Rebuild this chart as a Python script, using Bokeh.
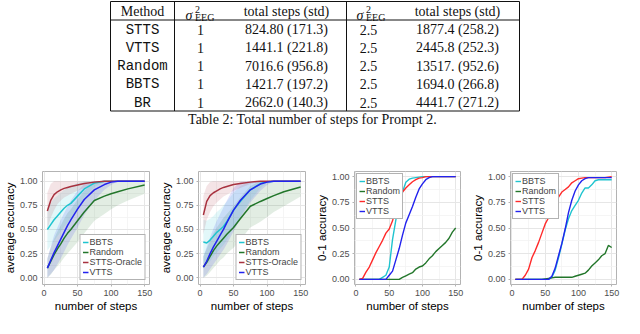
from bokeh.plotting import figure
from bokeh.layouts import column, row
from bokeh.models import Range1d, FixedTicker, Label, Legend, LegendItem, PrintfTickFormatter
from bokeh.core.properties import value
from bokeh.embed import file_html
from bokeh.resources import INLINE

# ---------------- Table 2 data ----------------
METHODS = ["STTS", "VTTS", "Random", "BBTS", "BR"]
SIGMA_LOW = "1"
SIGMA_HIGH = "2.5"
TOTAL_LOW = ["824.80", "1441.1", "7016.6", "1421.7", "2662.0"]
STD_LOW = ["171.3", "221.8", "956.8", "197.2", "140.3"]
TOTAL_HIGH = ["1877.4", "2445.8", "13517.", "1694.0", "4441.7"]
STD_HIGH = ["258.2", "252.3", "952.6", "266.8", "271.2"]
HEAD_METHOD = "Method"
HEAD_TOTAL = "total steps (std)"
CAPTION = "Table 2: Total number of steps for Prompt 2."

# ---------------- average accuracy panels ----------------
AVG_STEPS = [5, 10, 15, 20, 25, 30, 35, 40, 50, 60, 75, 90, 100, 110, 125, 150]

ORACLE_1 = [0.69, 0.80, 0.86, 0.89, 0.91, 0.925, 0.935, 0.945, 0.96, 0.975, 0.99, 0.998, 1.0, 1.0, 1.0, 1.0]
ORACLE_1_LO = [0.50, 0.62, 0.70, 0.76, 0.80, 0.83, 0.85, 0.87, 0.90, 0.93, 0.97, 0.99, 1.0, 1.0, 1.0, 1.0]
ORACLE_1_HI = [0.88, 0.97, 1.0, 1.0, 1.0, 1.0, 1.0, 1.0, 1.0, 1.0, 1.0, 1.0, 1.0, 1.0, 1.0, 1.0]
BBTS_1 = [0.50, 0.55, 0.60, 0.64, 0.68, 0.72, 0.75, 0.77, 0.845, 0.92, 0.98, 0.998, 1.0, 1.0, 1.0, 1.0]
BBTS_1_LO = [0.28, 0.33, 0.38, 0.43, 0.48, 0.53, 0.57, 0.61, 0.71, 0.82, 0.94, 0.99, 1.0, 1.0, 1.0, 1.0]
BBTS_1_HI = [0.72, 0.77, 0.82, 0.85, 0.88, 0.91, 0.93, 0.95, 0.98, 1.0, 1.0, 1.0, 1.0, 1.0, 1.0, 1.0]
VTTS_1 = [0.10, 0.18, 0.26, 0.33, 0.40, 0.47, 0.54, 0.60, 0.71, 0.81, 0.91, 0.965, 0.99, 1.0, 1.0, 1.0]
VTTS_1_LO = [0.0, 0.04, 0.08, 0.14, 0.20, 0.27, 0.34, 0.40, 0.52, 0.65, 0.80, 0.91, 0.96, 1.0, 1.0, 1.0]
VTTS_1_HI = [0.20, 0.32, 0.44, 0.52, 0.60, 0.67, 0.74, 0.80, 0.90, 0.97, 1.0, 1.0, 1.0, 1.0, 1.0, 1.0]
RANDOM_1 = [0.10, 0.17, 0.24, 0.30, 0.35, 0.41, 0.46, 0.50, 0.59, 0.68, 0.80, 0.845, 0.87, 0.89, 0.92, 0.96]
RANDOM_1_LO = [0.0, 0.03, 0.08, 0.12, 0.16, 0.21, 0.25, 0.29, 0.37, 0.46, 0.59, 0.66, 0.71, 0.75, 0.80, 0.87]
RANDOM_1_HI = [0.20, 0.31, 0.40, 0.48, 0.54, 0.61, 0.67, 0.71, 0.81, 0.90, 1.0, 1.0, 1.0, 1.0, 1.0, 1.0]

ORACLE_2 = [0.65, 0.79, 0.85, 0.88, 0.90, 0.92, 0.935, 0.945, 0.965, 0.975, 0.99, 1.0, 1.0, 1.0, 1.0, 1.0]
ORACLE_2_LO = [0.45, 0.60, 0.68, 0.74, 0.78, 0.81, 0.84, 0.86, 0.90, 0.93, 0.97, 1.0, 1.0, 1.0, 1.0, 1.0]
ORACLE_2_HI = [0.85, 0.95, 0.99, 1.0, 1.0, 1.0, 1.0, 1.0, 1.0, 1.0, 1.0, 1.0, 1.0, 1.0, 1.0, 1.0]
BBTS_2 = [0.37, 0.36, 0.39, 0.43, 0.47, 0.50, 0.53, 0.58, 0.70, 0.79, 0.91, 0.975, 0.995, 1.0, 1.0, 1.0]
BBTS_2_LO = [0.15, 0.14, 0.17, 0.22, 0.26, 0.30, 0.34, 0.39, 0.52, 0.63, 0.80, 0.93, 0.98, 1.0, 1.0, 1.0]
BBTS_2_HI = [0.60, 0.59, 0.61, 0.64, 0.68, 0.71, 0.75, 0.79, 0.88, 0.95, 1.0, 1.0, 1.0, 1.0, 1.0, 1.0]
VTTS_2 = [0.11, 0.17, 0.25, 0.32, 0.38, 0.44, 0.50, 0.57, 0.70, 0.80, 0.91, 0.97, 0.99, 1.0, 1.0, 1.0]
VTTS_2_LO = [0.0, 0.04, 0.09, 0.14, 0.19, 0.24, 0.29, 0.35, 0.48, 0.61, 0.78, 0.90, 0.96, 1.0, 1.0, 1.0]
VTTS_2_HI = [0.22, 0.32, 0.42, 0.51, 0.59, 0.66, 0.73, 0.80, 0.93, 0.99, 1.0, 1.0, 1.0, 1.0, 1.0, 1.0]
RANDOM_2 = [0.11, 0.16, 0.22, 0.28, 0.33, 0.37, 0.41, 0.45, 0.52, 0.61, 0.74, 0.79, 0.82, 0.85, 0.89, 0.94]
RANDOM_2_LO = [0.0, 0.02, 0.06, 0.10, 0.14, 0.18, 0.21, 0.25, 0.31, 0.39, 0.52, 0.58, 0.63, 0.68, 0.74, 0.84]
RANDOM_2_HI = [0.22, 0.30, 0.38, 0.46, 0.52, 0.57, 0.62, 0.66, 0.74, 0.83, 0.95, 1.0, 1.0, 1.0, 1.0, 1.0]

# ---------------- 0-1 accuracy panels ----------------
STEPS01 = [5, 10, 15, 20, 25, 30, 35, 40, 45, 50, 55, 60, 65, 70, 75,
           80, 85, 90, 95, 100, 105, 110, 115, 120, 125, 130, 135, 140, 145, 150]

BBTS_3 = [0, 0, 0, 0, 0, 0, 0, 0.02, 0.04, 0.12, 0.39, 0.58, 0.73, 0.85, 0.945,
          0.975, 0.985, 0.99, 0.995, 1, 1, 1, 1, 1, 1, 1, 1, 1, 1, 1]
RANDOM_3 = [0, 0, 0, 0, 0, 0, 0, 0, 0, 0, 0, 0, 0, 0.02, 0.035,
            0.05, 0.065, 0.10, 0.12, 0.13, 0.16, 0.20, 0.23, 0.27, 0.30, 0.33, 0.36, 0.40, 0.46, 0.50]
STTS_3 = [0, 0.01, 0.07, 0.12, 0.19, 0.26, 0.32, 0.38, 0.45, 0.49, 0.57, 0.70, 0.79, 0.85, 0.89,
          0.92, 0.95, 0.97, 0.985, 0.99, 1, 1, 1, 1, 1, 1, 1, 1, 1, 1]
VTTS_3 = [0, 0, 0, 0, 0, 0, 0, 0, 0, 0.04, 0.08, 0.19, 0.30, 0.43, 0.55,
          0.63, 0.71, 0.80, 0.88, 0.93, 0.97, 0.99, 1, 1, 1, 1, 1, 1, 1, 1]

BBTS_4 = [0, 0, 0, 0, 0, 0, 0, 0, 0, 0, 0, 0.02, 0.09, 0.21, 0.34,
          0.48, 0.59, 0.67, 0.72, 0.77, 0.84, 0.89, 0.89, 0.92, 0.96, 0.97, 0.97, 0.97, 0.97, 0.97]
RANDOM_4 = [0, 0, 0, 0, 0, 0, 0, 0, 0, 0.005, 0.01, 0.015, 0.02, 0.02, 0.02,
            0.02, 0.02, 0.02, 0.03, 0.04, 0.05, 0.06, 0.09, 0.13, 0.16, 0.19, 0.23, 0.25, 0.33, 0.31]
STTS_4 = [0, 0, 0, 0.04, 0.10, 0.21, 0.28, 0.36, 0.45, 0.54, 0.60, 0.66, 0.73, 0.80, 0.85,
          0.875, 0.90, 0.94, 0.96, 0.98, 0.985, 0.99, 0.99, 0.99, 0.99, 0.99, 0.99, 0.99, 0.995, 1.0]
VTTS_4 = [0, 0, 0, 0, 0, 0, 0, 0, 0, 0, 0, 0.03, 0.11, 0.23, 0.35,
          0.49, 0.65, 0.77, 0.86, 0.92, 0.96, 0.98, 0.99, 0.99, 0.99, 0.99, 0.99, 0.99, 0.99, 0.99]

X_TICKS = [0, 50, 100, 150]
X_MINOR = [25, 75, 125]
Y_TICKS = [0, 0.25, 0.5, 0.75, 1.0]
Y_MINOR = [0.125, 0.375, 0.625, 0.875]

# colours
C_BBTS = "#1fc4cf"
C_RANDOM = "#22762a"
C_ORACLE = "#a8323f"
C_STTS = "#ff2a2a"
C_VTTS = "#2222ee"

SANS = "Liberation Sans"
SERIF = "Liberation Serif"
MONO = "Liberation Mono"


def build_table():
    W, H = 624, 142
    p = figure(width=W, height=H, x_range=Range1d(0, W), y_range=Range1d(H, 0),
               x_axis_type=None, y_axis_type=None, output_backend="svg",
               toolbar_location=None, min_border=0, title=None)
    p.outline_line_color = None
    ox = -8
    left, v1, v2, right = 118 + ox, 182 + ox, 354 + ox, 527 + ox
    top, head, bottom = 1, 19.5, 110.5
    p.segment(x0=[left, left, left, left, v1, v2, right],
              y0=[top, head, bottom, top, top, top, top],
              x1=[right, right, right, left, v1, v2, right],
              y1=[top, head, bottom, bottom, bottom, bottom, bottom],
              line_color="#111111", line_width=1)
    cx_method, cx_s1, cx_t1, cx_s2, cx_t2 = 150 + ox, 208 + ox, 294 + ox, 376 + ox, 465 + ox
    row_y = [29, 47.3, 65.6, 83.9, 102.2]
    # header
    p.text(x=[cx_method, cx_t1, cx_t2], y=[11, 11, 11],
           text=[HEAD_METHOD, HEAD_TOTAL, HEAD_TOTAL],
           text_align="center", text_baseline="middle",
           text_font=value(SERIF), text_font_size="14px", text_color="#111111")
    for sx in (193 + ox, 364 + ox):
        p.text(x=[sx], y=[15], text=["σ"], text_align="left", text_baseline="alphabetic",
               text_font=value(SERIF), text_font_style="italic", text_font_size="14px",
               text_color="#111111")
        p.text(x=[sx + 9.5], y=[8.5], text=["2"], text_align="left", text_baseline="alphabetic",
               text_font=value(SERIF), text_font_size="10px", text_color="#111111")
        p.text(x=[sx + 9.5], y=[17], text=["EEG"], text_align="left", text_baseline="alphabetic",
               text_font=value(SERIF), text_font_size="10px", text_color="#111111")
    # body
    p.text(x=[cx_method] * len(METHODS), y=row_y, text=METHODS,
           text_align="center", text_baseline="middle",
           text_font=value(MONO), text_font_size="14px", text_color="#111111")
    cells_x, cells_y, cells_t = [], [], []
    for i in range(len(METHODS)):
        cells_x += [cx_s1, cx_t1, cx_s2, cx_t2]
        cells_y += [row_y[i]] * 4
        cells_t += [SIGMA_LOW, f"{TOTAL_LOW[i]} ({STD_LOW[i]})",
                    SIGMA_HIGH, f"{TOTAL_HIGH[i]} ({STD_HIGH[i]})"]
    p.text(x=cells_x, y=cells_y, text=cells_t, text_align="center", text_baseline="middle",
           text_font=value(SERIF), text_font_size="14px", text_color="#111111")
    p.text(x=[320 + ox], y=[118.5], text=[CAPTION], text_align="center", text_baseline="middle",
           text_font=value(SERIF), text_font_size="14px", text_color="#111111")
    return p


CHAR_W12 = {"=": 7.0, " ": 3.3, ".": 3.3}


def add_title(p, rest):
    xc = (p.x_range.start + p.x_range.end) / 2
    yt = p.y_range.end
    w_sig, w_sub = 6.9, 14.7
    w_rest = 3.3 + sum(CHAR_W12.get(ch, 6.7) for ch in rest)
    x0 = -(w_sig + w_sub + w_rest) / 2
    common = dict(x=xc, y=yt, x_units="data", y_units="data", text_align="left",
                  text_baseline="alphabetic", text_font=SANS, text_color="black")
    p.add_layout(Label(text="σ", x_offset=x0, y_offset=9, text_font_size="12px", **common))
    p.add_layout(Label(text="2", x_offset=x0 + w_sig + 0.3, y_offset=15.5, text_font_size="7px", **common))
    p.add_layout(Label(text="EEG", x_offset=x0 + w_sig + 0.3, y_offset=7, text_font_size="7px", **common))
    p.add_layout(Label(text=rest, x_offset=x0 + w_sig + w_sub + 3.3, y_offset=9,
                       text_font_size="12px", **common))


def build_panel(rest, steps, bands, lines, ylabel, y_lo, y_hi, legend_loc, legend_margin,
                line_width, border_right):
    p = figure(width=156, height=172, x_range=Range1d(-2.25, 157.25), y_range=Range1d(y_lo, y_hi),
               output_backend="svg", toolbar_location=None, title=None,
               min_border_left=35, min_border_right=border_right,
               min_border_top=29, min_border_bottom=28)
    p.outline_line_color = "#b3b3b3"
    p.outline_line_width = 1
    p.xaxis.ticker = FixedTicker(ticks=X_TICKS, minor_ticks=X_MINOR)
    p.yaxis.ticker = FixedTicker(ticks=Y_TICKS, minor_ticks=Y_MINOR)
    p.yaxis.formatter = PrintfTickFormatter(format="%.2f")
    p.xaxis.axis_label = "number of steps"
    p.yaxis.axis_label = ylabel
    for ax in (p.xaxis[0], p.yaxis[0]):
        ax.axis_line_color = None
        ax.major_tick_line_color = "#b3b3b3"
        ax.major_tick_out = 2
        ax.major_tick_in = 0
        ax.minor_tick_line_color = None
        ax.major_label_text_font = SANS
        ax.major_label_text_font_size = "9px"
        ax.major_label_text_color = "#4d4d4d"
        ax.major_label_standoff = 1
        ax.axis_label_text_font = SANS
        ax.axis_label_text_font_size = "11.5px"
        ax.axis_label_text_font_style = "normal"
        ax.axis_label_text_color = "black"
        ax.axis_label_standoff = 1
    for g in (p.xgrid[0], p.ygrid[0]):
        g.grid_line_color = "#e6e6e6"
        g.grid_line_width = 1
        g.minor_grid_line_color = "#f2f2f2"
        g.minor_grid_line_width = 0.8
    for lo, hi, color in bands:
        p.varea(x=steps, y1=lo, y2=hi, fill_color=color, fill_alpha=0.13)
    items = []
    for name, ys, color in lines:
        r = p.line(x=steps, y=ys, line_color=color, line_width=line_width)
        items.append(LegendItem(label=name, renderers=[r]))
    legend = Legend(items=items, location=legend_loc, margin=legend_margin, padding=2,
                    spacing=-2, glyph_width=6, glyph_height=8, label_height=8,
                    label_standoff=1, label_text_font=SANS, label_text_font_size="9px",
                    border_line_color="#666666", border_line_width=1,
                    background_fill_color="white", background_fill_alpha=1.0)
    p.add_layout(legend)
    add_title(p, rest)
    return p


p1 = build_panel("= 1", AVG_STEPS,
                 [(RANDOM_1_LO, RANDOM_1_HI, C_RANDOM), (VTTS_1_LO, VTTS_1_HI, C_VTTS),
                  (BBTS_1_LO, BBTS_1_HI, C_BBTS), (ORACLE_1_LO, ORACLE_1_HI, C_ORACLE)],
                 [("BBTS", BBTS_1, C_BBTS), ("Random", RANDOM_1, C_RANDOM),
                  ("STTS-Oracle", ORACLE_1, C_ORACLE), ("VTTS", VTTS_1, C_VTTS)],
                 "average accuracy", -0.07, 1.10, "bottom_right", 4, 1.5, 7)
p2 = build_panel("= 2.5", AVG_STEPS,
                 [(RANDOM_2_LO, RANDOM_2_HI, C_RANDOM), (VTTS_2_LO, VTTS_2_HI, C_VTTS),
                  (BBTS_2_LO, BBTS_2_HI, C_BBTS), (ORACLE_2_LO, ORACLE_2_HI, C_ORACLE)],
                 [("BBTS", BBTS_2, C_BBTS), ("Random", RANDOM_2, C_RANDOM),
                  ("STTS-Oracle", ORACLE_2, C_ORACLE), ("VTTS", VTTS_2, C_VTTS)],
                 "average accuracy", -0.07, 1.10, "bottom_right", 4, 1.5, 7)
p3 = build_panel("= 1", STEPS01, [],
                 [("BBTS", BBTS_3, C_BBTS), ("Random", RANDOM_3, C_RANDOM),
                  ("STTS", STTS_3, C_STTS), ("VTTS", VTTS_3, C_VTTS)],
                 "0-1 accuracy", -0.05, 1.05, "top_left", 2, 1.4, 8)
p4 = build_panel("= 2.5", STEPS01, [],
                 [("BBTS", BBTS_4, C_BBTS), ("Random", RANDOM_4, C_RANDOM),
                  ("STTS", STTS_4, C_STTS), ("VTTS", VTTS_4, C_VTTS)],
                 "0-1 accuracy", -0.05, 1.05, "top_left", 2, 1.4, 8)

table = build_table()
layout = column(table, row(p1, p2, p3, p4))

open("out.html", "w").write(file_html(layout, INLINE))
